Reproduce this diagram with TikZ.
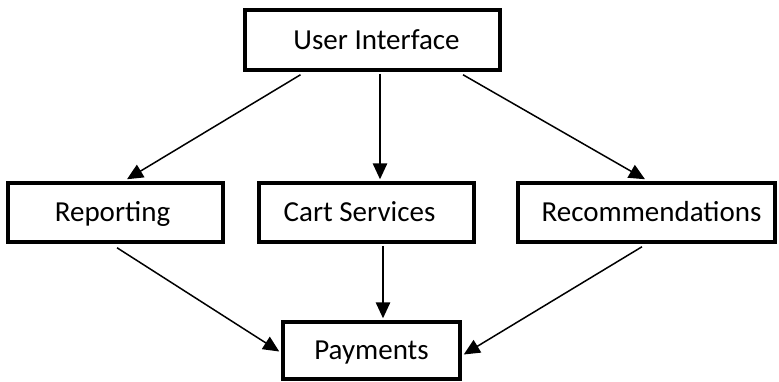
\documentclass[tikz,border=0pt]{standalone}
\usepackage{fontspec}
\setmainfont{Carlito}
\usetikzlibrary{arrows.meta}
\begin{document}
\begin{tikzpicture}[x=1pt,y=1pt,
  box/.style={draw=black,line width=3.5pt,rectangle,inner sep=0pt,
    font=\fontsize{29}{30}\selectfont,fill=white,text height=18.5pt,text depth=0pt},
  conn/.style={line width=1.5pt,-{Triangle[length=16pt,width=14.5pt]}}]
\useasboundingbox (0,0) rectangle (779,381);
\node[box,minimum width=255pt,minimum height=60pt] (ui) at (372.5,341) {\hspace*{8pt}User Interface};
\node[box,minimum width=215pt,minimum height=59pt] (rep) at (115.5,168.5) {\hspace*{-6pt}Reporting};
\node[box,minimum width=215pt,minimum height=59pt] (cart) at (366.5,168.5) {\hspace*{-14pt}Cart Services};
\node[box,minimum width=257pt,minimum height=59pt] (rec) at (646.5,168.5) {\hspace*{10pt}Recommendations};
\node[box,minimum width=177pt,minimum height=57pt] (pay) at (371.5,30.5) {Payments};
\draw[conn] ([xshift=-72pt,yshift=-3pt]ui.south) -- ([xshift=11.5pt,yshift=2pt]rep.north);
\draw[conn] ([xshift=7.5pt,yshift=-2pt]ui.south) -- ([xshift=13.5pt,yshift=2pt]cart.north);
\draw[conn] ([xshift=90.5pt,yshift=-3pt]ui.south) -- ([xshift=-1.5pt,yshift=2pt]rec.north);
\draw[conn] ([xshift=1.5pt,yshift=-4pt]rep.south) -- ([xshift=-2pt,yshift=-1pt]pay.west);
\draw[conn] ([xshift=16.5pt,yshift=-2pt]cart.south) -- ([xshift=11.5pt,yshift=2pt]pay.north);
\draw[conn] ([xshift=-4.5pt,yshift=-3pt]rec.south) -- ([xshift=2pt,yshift=-4pt]pay.east);
\end{tikzpicture}
\end{document}
